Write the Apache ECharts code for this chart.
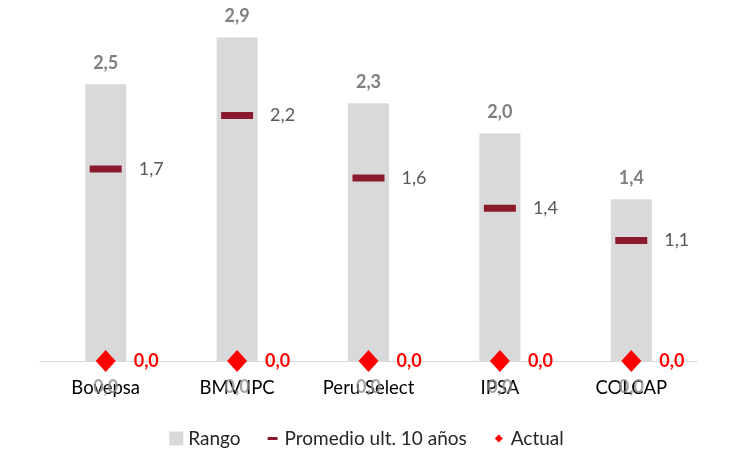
<!DOCTYPE html>
<html><head><meta charset="utf-8">
<script src="https://cdn.jsdelivr.net/npm/echarts@6/dist/echarts.min.js"></script>
<style>html,body{margin:0;padding:0;background:#fff}#c{width:733px;height:460px}</style>
</head><body><div id="c"></div>
<script>
const categories = ['Bovepsa', 'BMV IPC', 'Peru Select', 'IPSA', 'COLCAP'];
const rangoMax = [2.48, 2.90, 2.31, 2.04, 1.45];
const rangoMin = [0, 0, 0, 0, 0];
const promedio = [1.72, 2.20, 1.64, 1.37, 1.08];
const actual = [0, 0, 0, 0, 0];

const fmt = v => v.toFixed(1).replace('.', ',');
const FONT = 'Lato';
const chart = echarts.init(document.getElementById('c'));
chart.setOption({
  animation: false,
  textStyle: { fontFamily: FONT },
  grid: { left: 40, right: 36, top: 4, bottom: 99 },
  legend: {
    bottom: 7, left: 'center', itemGap: 25, itemWidth: 14, itemHeight: 14,
    textStyle: { fontFamily: FONT, fontSize: 19, color: '#262626' },
    data: [
      { name: 'Rango', icon: 'rect' },
      { name: 'Promedio ult. 10 años', icon: 'path://M0,0h0.05v0.05h-0.05z M2,5.5h10v3h-10z M13.95,13.95h0.05v0.05h-0.05z' },
      { name: 'Actual', icon: 'path://M0,0h0.05v0.05h-0.05z M7,3L11,7L7,11L3,7z M13.95,13.95h0.05v0.05h-0.05z' }
    ]
  },
  xAxis: {
    type: 'category', data: categories,
    axisLine: { lineStyle: { color: '#d9d9d9', width: 1 } },
    axisTick: { show: false },
    axisLabel: { color: '#000', fontSize: 18.5, fontFamily: FONT, margin: 18 }
  },
  yAxis: { type: 'value', min: 0, max: 3.2, show: false, splitLine: { show: false } },
  series: [
    {
      name: 'Rango', type: 'bar', data: rangoMax, barWidth: 41, z: 1,
      itemStyle: { color: '#d9d9d9' },
      label: { show: true, position: 'top', distance: 12, formatter: p => fmt(p.value),
        color: '#7f7f7f', fontWeight: 'bold', fontSize: 18, fontFamily: FONT }
    },
    {
      name: 'RangoMin', type: 'scatter', data: rangoMin, symbolSize: 1, z: 0,
      itemStyle: { color: 'rgba(0,0,0,0)' },
      label: { show: true, position: 'bottom', distance: 17, formatter: p => fmt(p.value),
        color: '#8c8c8c', fontWeight: 'bold', fontSize: 18, fontFamily: FONT },
      tooltip: { show: false }
    },
    {
      name: 'Promedio ult. 10 años', type: 'scatter', data: promedio, z: 3,
      symbol: 'rect', symbolSize: [32, 7],
      itemStyle: { color: '#8B1A2F', opacity: 1 },
      label: { show: true, position: 'right', distance: 17, formatter: p => fmt(p.value),
        color: '#595959', fontSize: 18, fontFamily: FONT }
    },
    {
      name: 'Actual', type: 'scatter', data: actual, z: 4,
      symbol: 'diamond', symbolSize: [20, 22],
      itemStyle: { color: '#ff0000', opacity: 1 },
      label: { show: true, position: 'right', distance: 18, formatter: p => fmt(p.value),
        color: '#ff0000', fontWeight: 'bold', fontSize: 18, fontFamily: FONT }
    }
  ]
});
</script></body></html>
